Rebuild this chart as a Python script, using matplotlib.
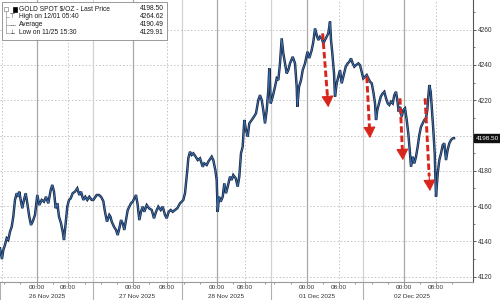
import matplotlib
matplotlib.use("Agg")
import matplotlib.pyplot as plt
from matplotlib.patches import Rectangle
import matplotlib.transforms as mtransforms

plt.rcParams['font.family'] = ['Liberation Sans', 'DejaVu Sans']

# ---- data (compressed trading hours relative to 26 Nov 00:00, price) ----
hours = [-9.06, -8.57, -8.25, -7.83, -7.41, -7.01, -6.59, -6.17, -5.78, -5.36,
         -4.94, -4.54, -4.30, -3.95, -3.56, -3.14, -2.72, -2.32, -1.83, -1.41,
         -0.99, -0.42, 0.15, 0.64, 1.23, 1.80, 2.30, 2.86, 3.46, 3.85,
         4.27, 4.69, 5.09, 5.51, 6.00, 6.42, 6.74, 7.16, 7.56, 7.98,
         8.40, 8.89, 9.46, 10.02, 10.52, 10.94, 11.51, 12.00, 12.49, 12.99,
         13.58, 13.98, 14.81, 15.38, 15.88, 16.44, 16.86, 17.36, 17.93, 18.22,
         18.52, 19.09, 19.58, 20.00, 20.40, 20.81, 21.23, 21.63, 22.05, 22.47,
         22.86, 23.28, 23.70, 24.10, 24.52, 24.94, 25.33, 25.75, 26.17, 26.57,
         27.16, 27.73, 28.40, 28.96, 29.46, 30.02, 30.62, 31.11, 31.68, 32.10,
         32.59, 33.09, 33.58, 34.15, 34.72, 35.38, 35.80, 36.20, 36.62, 36.86,
         37.19, 37.43, 37.85, 38.27, 38.67, 39.26, 39.75, 40.32, 40.99, 41.38,
         41.98, 42.37, 43.21, 43.60, 44.10, 44.44, 44.69, 45.01, 45.43, 45.93,
         46.32, 46.74, 47.16, 47.73, 48.15, 48.54, 49.14, 49.63, 50.02, 50.44,
         50.86, 51.26, 51.68, 52.10, 52.49, 53.09, 53.65, 54.15, 54.72, 55.14,
         55.56, 55.95, 56.37, 56.79, 57.19, 57.43, 57.78, 58.27, 58.84, 59.26,
         59.65, 60.07, 60.49, 60.89, 61.31, 61.73, 62.12, 62.54, 63.21, 63.78,
         64.20, 64.35, 64.77, 65.26, 65.68, 66.25, 66.86, 67.31, 67.90, 68.30,
         68.72, 69.14, 69.53, 69.95, 70.37, 70.77, 71.19, 71.60, 72.00, 72.42,
         72.67, 72.99, 73.41, 73.65, 74.07, 74.47, 74.89, 75.31, 75.70, 76.30,
         76.79, 77.19, 77.60, 78.02, 78.42, 78.84, 79.41, 79.83, 80.25, 80.64,
         81.06, 81.48, 81.88, 82.30, 82.72, 83.11, 83.53, 83.78, 84.10, 84.52,
         84.94, 85.43, 85.83, 86.25, 86.67, 87.06, 87.48, 87.90, 88.30, 88.72,
         89.04, 89.38, 89.70, 90.12, 90.52, 90.94, 91.36, 91.75, 92.17, 92.42,
         92.84, 93.23, 93.65, 94.07, 94.47, 94.89, 95.31, 95.70, 96.12, 96.44,
         96.69, 96.94, 97.28, 97.60, 97.93, 98.27, 98.59, 99.01, 99.41, 99.83,
         100.25, 100.64, 101.06, 101.46, 101.88, 102.30, 102.72, 103.04]

price = [4136.1, 4130.0, 4135.1, 4138.0, 4141.8, 4140.8, 4145.5, 4148.3, 4154.0, 4163.5,
         4167.3, 4165.3, 4168.2, 4163.5, 4158.8, 4163.5, 4167.3, 4161.6, 4154.0, 4149.3,
         4151.2, 4155.0, 4166.3, 4160.6, 4163.5, 4162.5, 4165.3, 4161.6, 4169.1, 4172.0,
         4168.2, 4158.8, 4161.6, 4154.0, 4150.3, 4145.5, 4140.8, 4150.3, 4159.7, 4163.5,
         4164.4, 4167.3, 4168.2, 4170.1, 4166.3, 4168.2, 4163.5, 4165.3, 4163.5, 4165.3,
         4163.5, 4163.5, 4166.3, 4166.3, 4165.3, 4162.9, 4156.8, 4151.2, 4155.0, 4154.0,
         4151.2, 4148.3, 4146.5, 4143.6, 4147.4, 4152.1, 4150.3, 4146.5, 4152.1, 4157.8,
         4159.7, 4161.6, 4162.5, 4164.4, 4166.3, 4160.6, 4152.1, 4156.8, 4159.7, 4156.8,
         4160.6, 4158.8, 4157.8, 4153.1, 4156.8, 4159.7, 4157.8, 4159.7, 4155.0, 4153.1,
         4156.8, 4157.8, 4156.8, 4157.8, 4158.8, 4161.6, 4162.5, 4163.5, 4167.3, 4172.9,
         4180.5, 4187.1, 4190.8, 4189.0, 4189.9, 4188.0, 4186.1, 4187.1, 4182.3, 4184.2,
         4183.3, 4185.2, 4188.0, 4186.1, 4180.5, 4174.8, 4156.7, 4165.3, 4162.5, 4165.3,
         4172.9, 4167.3, 4171.0, 4176.7, 4174.8, 4177.6, 4175.8, 4171.0, 4176.7, 4189.9,
         4193.7, 4208.8, 4203.1, 4199.3, 4206.9, 4208.8, 4210.7, 4212.6, 4220.1, 4222.9,
         4220.1, 4214.4, 4206.9, 4214.4, 4225.8, 4238.1, 4218.2, 4222.0, 4227.6, 4232.4,
         4231.4, 4240.9, 4255.1, 4246.6, 4240.9, 4235.2, 4237.1, 4240.9, 4244.6, 4240.9,
         4227.6, 4216.3, 4227.6, 4231.4, 4237.1, 4240.9, 4247.5, 4243.9, 4248.4, 4253.1,
         4260.7, 4256.9, 4254.1, 4256.0, 4255.1, 4252.2, 4254.1, 4256.0, 4257.9, 4264.6,
         4254.1, 4246.6, 4235.2, 4222.0, 4229.6, 4233.3, 4237.1, 4229.6, 4233.3, 4239.0,
         4240.9, 4241.8, 4243.7, 4240.9, 4239.0, 4239.9, 4240.9, 4239.9, 4236.1, 4232.4,
         4233.3, 4234.3, 4232.4, 4230.5, 4229.6, 4224.8, 4218.2, 4208.8, 4214.4, 4218.2,
         4222.0, 4223.9, 4224.8, 4221.1, 4218.2, 4217.3, 4219.2, 4218.2, 4222.9, 4224.8,
         4220.1, 4213.5, 4216.3, 4210.7, 4214.4, 4215.4, 4208.8, 4201.2, 4189.9, 4182.3,
         4188.0, 4184.2, 4188.0, 4193.7, 4200.3, 4205.0, 4206.9, 4208.8, 4209.7, 4214.4,
         4222.0, 4228.6, 4224.8, 4214.4, 4203.1, 4189.9, 4165.3, 4178.6, 4186.1, 4189.9,
         4194.6, 4195.6, 4186.1, 4191.8, 4195.6, 4197.5, 4198.4, 4198.5]

# x-axis labelling (compressed hours)
time_tick_pos = [0.0, 7.8, 23.85, 32.1, 44.4, 51.4, 66.7, 74.7, 90.7, 98.6]
time_tick_labels = ["00:00", "08:00"] * 5
midnight_pos = [0.0, 23.85, 44.4, 66.7, 90.7]
eight_pos = [7.8, 32.1, 51.4, 74.7, 98.6]
session_bounds = [-9.06, 13.98, 35.8, 57.78, 80.64]
date_label_pos = [2.47, 24.9, 46.8, 69.2, 92.6]
date_labels = ["26 Nov 2025", "27 Nov 2025", "28 Nov 2025", "01 Dec 2025", "02 Dec 2025"]
minor_time_ticks = [-8, -4, 4, 12, 15.85, 19.85, 27.85, 36.4, 40.4, 48.4, 56.4,
                    58.7, 62.7, 70.7, 78.7, 82.7, 86.7, 94.7, 102.6]

# y-axis labels (4200 hidden behind the last-price tag)
y_ticks = [4120, 4140, 4160, 4180, 4200, 4220, 4240, 4260]
y_tick_labels = ["4120", "4140", "4160", "4180", "", "4220", "4240", "4260"]

# legend info
legend_names = ["GOLD SPOT $/OZ - Last Price", "High on 12/01 05:40", "Average", "Low on 11/25 15:30"]
legend_values = ["4198.50", "4264.62", "4190.49", "4129.91"]
last_price = 4198.50

# red dashed arrows: (start hour, start price, end hour, end price)
arrows_h0 = [70.6, 81.5, 89.7, 95.9]
arrows_p0 = [4257.9, 4233.3, 4221.1, 4221.1]
arrows_h1 = [72.0, 82.3, 90.4, 97.1]
arrows_p1 = [4216.0, 4198.5, 4186.0, 4168.5]

# ---- figure ----
fig = plt.figure(figsize=(5, 3), dpi=100)
ax = fig.add_axes([0.0, 0.06, 0.9454, 0.94])
ax.set_xlim(-9.06, 107.65)
ax.set_ylim(4117.0, 4276.8)

# grid
for yv in y_ticks:
    ax.axhline(yv, color="#c4c4c4", lw=0.7, ls=(0, (1.5, 2.0)), zorder=0)
for xv in midnight_pos:
    ax.axvline(xv, color="#a8a8a8", lw=0.9, zorder=0)
for xv in eight_pos:
    ax.axvline(xv, color="#c4c4c4", lw=0.7, ls=(0, (1.5, 2.0)), zorder=0)
for xv in session_bounds[1:]:
    ax.axvline(xv, color="#d2d2d2", lw=0.9, zorder=0)
ax.axvline(session_bounds[0] + 0.4, color="#c4c4c4", lw=0.7, ls=(0, (1.5, 2.0)), zorder=0)

# price line
ax.plot(hours, price, color="#1b2740", lw=1.75, zorder=3, solid_joinstyle="miter")
ax.plot(hours, price, color="#3f7fc8", lw=0.6, zorder=4, alpha=0.9)

# arrows
for h0, p0, h1, p1 in zip(arrows_h0, arrows_p0, arrows_h1, arrows_p1):
    dh = (h1 - h0)
    dp = (p1 - p0)
    frac = 0.84
    ax.plot([h0, h0 + dh * frac], [p0, p0 + dp * frac], color="#d9261c", lw=2.1,
            ls=(0, (2.2, 1.0)), solid_capstyle="butt", zorder=6)
    ax.annotate("", xy=(h1, p1), xytext=(h0 + dh * 0.8, p0 + dp * 0.8),
                arrowprops=dict(arrowstyle="-|>,head_length=0.7,head_width=0.38",
                                color="#d9261c", lw=0.8, shrinkA=0, shrinkB=0),
                zorder=7)

# spines
for s in ["top", "left"]:
    ax.spines[s].set_visible(False)
ax.spines["right"].set_color("#555555")
ax.spines["right"].set_linewidth(0.8)
ax.spines["bottom"].set_color("#9a9a9a")
ax.spines["bottom"].set_linewidth(0.8)

# y axis on right
ax.yaxis.tick_right()
ax.set_yticks(y_ticks)
ax.set_yticklabels(y_tick_labels)
ax.set_yticks([v + 10 for v in y_ticks], minor=True)
ax.tick_params(axis="y", which="major", direction="out", length=2.5, width=0.6,
               color="#444444", labelsize=4.7, labelcolor="#333333", pad=1)
ax.tick_params(axis="y", which="minor", direction="out", length=1.5, width=0.5,
               color="#444444")

# x axis
ax.set_xticks(time_tick_pos)
ax.set_xticklabels(time_tick_labels)
ax.set_xticks(minor_time_ticks, minor=True)
ax.tick_params(axis="x", which="major", direction="out", length=1.8, width=0.5,
               color="#666666", labelsize=4.6, labelcolor="#333333", pad=0.3)
ax.tick_params(axis="x", which="minor", direction="out", length=1.2, width=0.5,
               color="#666666")

trans = mtransforms.blended_transform_factory(ax.transData, ax.transAxes)
for xv in session_bounds:
    ax.plot([xv, xv], [0, -0.07], transform=trans, color="#b0b0b0", lw=0.8, clip_on=False)
for xv, lab in zip(date_label_pos, date_labels):
    ax.text(xv, -0.053, lab, transform=trans, ha="center", va="center", fontsize=4.6,
            color="#333333", clip_on=False)

# last price tag
ax.text(1.006, last_price, f"{last_price:.2f}",
        transform=mtransforms.blended_transform_factory(ax.transAxes, ax.transData),
        ha="left", va="center", fontsize=4.6, color="white", clip_on=False, zorder=10,
        bbox=dict(boxstyle="square,pad=0.2", fc="#111111", ec="#111111"))

# legend box
W, H = 472.7, 282.0
def fx(px):
    return px / W
def fy(py):
    return 1 - py / H

ax.add_patch(Rectangle((fx(2), fy(40)), fx(167) - fx(2), fy(2) - fy(40),
                       transform=ax.transAxes, fc="white", ec="#8a8a8a", lw=0.6, zorder=20))
rows = [9.0, 16.5, 24.5, 32.5]
for py, name, val in zip(rows, legend_names, legend_values):
    ax.text(fx(19), fy(py), name, transform=ax.transAxes, fontsize=4.8, color="#1a1a1a",
            ha="left", va="center", zorder=21)
    ax.text(fx(164), fy(py), val, transform=ax.transAxes, fontsize=4.8, color="#1a1a1a",
            ha="right", va="center", zorder=21)
# tree connector + symbols
ax.plot([fx(6), fx(6)], [fy(11), fy(33)], transform=ax.transAxes, color="#999999", lw=0.5, zorder=21)
for py in rows[1:]:
    ax.plot([fx(6), fx(9)], [fy(py), fy(py)], transform=ax.transAxes, color="#999999", lw=0.5, zorder=21)
ax.add_patch(Rectangle((fx(4.3), fy(10.8)), fx(3.4), fy(7.2) - fy(10.8), transform=ax.transAxes,
                       fc="white", ec="#888888", lw=0.5, zorder=22))
ax.add_patch(Rectangle((fx(12.5), fy(11.5)), fx(4.5), fy(6.5) - fy(11.5), transform=ax.transAxes,
                       fc="black", ec="black", lw=0.5, zorder=22))
ax.text(fx(12), fy(rows[1]), "⊤", transform=ax.transAxes, fontsize=4.5, color="#333333",
        ha="center", va="center", zorder=22, family=["DejaVu Sans"])
ax.plot([fx(9.5), fx(14.5)], [fy(rows[2]), fy(rows[2])], transform=ax.transAxes,
        color="#333333", lw=0.6, ls=(0, (1.5, 1)), zorder=22)
ax.text(fx(12), fy(rows[3]), "⊥", transform=ax.transAxes, fontsize=4.5, color="#333333",
        ha="center", va="center", zorder=22, family=["DejaVu Sans"])

fig.savefig("out.png", dpi=100)
